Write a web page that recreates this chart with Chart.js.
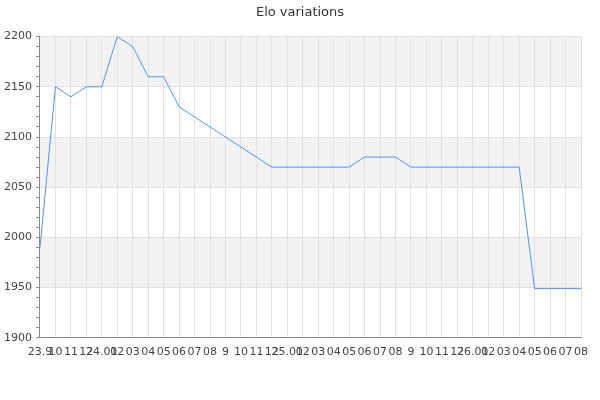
<!DOCTYPE html>
<html>
<head>
<meta charset="utf-8">
<script src="https://cdn.jsdelivr.net/npm/chart.js@4"></script>
<style>
  html, body { margin: 0; padding: 0; background: #fff; }
  #wrap { width: 600px; height: 400px; }
</style>
</head>
<body>
<div id="wrap"><canvas id="eloChart"></canvas></div>
<script>
const labels = [
  "23.9", "10", "11", "12",
  "24.01", "02", "03", "04", "05", "06", "07", "08", "9", "10", "11", "12",
  "25.01", "02", "03", "04", "05", "06", "07", "08", "9", "10", "11", "12",
  "26.01", "02", "03", "04", "05", "06", "07", "08"
];
const elo = [
  1990, 2150, 2140, 2150,
  2150, 2200, 2190, 2160, 2160, 2130, 2120, 2110, 2100, 2090, 2080, 2070,
  2070, 2070, 2070, 2070, 2070, 2080, 2080, 2080, 2070, 2070, 2070, 2070,
  2070, 2070, 2070, 2070, 1949, 1949, 1949, 1949
];
const yMin = 1900;
const yMax = 2200;

Chart.defaults.font.family = "'DejaVu Sans', sans-serif";
Chart.defaults.color = "#444";

// alternating grey bands, every other 50 pts from the top
const bandPlugin = {
  id: "bands",
  beforeDraw(chart) {
    const { ctx, chartArea, scales } = chart;
    const y = scales.y;
    ctx.save();
    ctx.fillStyle = "#f2f2f2";
    for (let v = yMax; v > yMin; v -= 100) {
      const top = y.getPixelForValue(v);
      const bottom = y.getPixelForValue(v - 50);
      ctx.fillRect(chartArea.left, top, chartArea.right - chartArea.left, bottom - top);
    }
    ctx.restore();
  }
};

new Chart(document.getElementById("eloChart"), {
  type: "line",
  data: {
    labels: labels,
    datasets: [{
      data: elo,
      borderColor: "#5b8ff2",
      borderWidth: 1,
      pointRadius: 0,
      tension: 0
    }]
  },
  options: {
    responsive: true,
    maintainAspectRatio: false,
    animation: false,
    layout: { padding: { left: 0, right: 0, top: 5, bottom: 33 } },
    plugins: {
      legend: { display: false },
      tooltip: { enabled: false },
      title: {
        display: true,
        text: "Elo variations",
        color: "#333",
        font: { size: 13, weight: "normal" },
        padding: { top: 0, bottom: 16 }
      }
    },
    scales: {
      x: {
        offset: false,
        border: { color: "#888" },
        grid: { color: "#e0e0e0", tickLength: 0 },
        ticks: {
          autoSkip: false,
          maxRotation: 0,
          minRotation: 0,
          padding: 8,
          color: "#444",
          font: { size: 11 }
        },
        // keep the right gap on the axis so the title stays centred on the page
        afterFit: s => { s.paddingRight = 19; }
      },
      y: {
        min: yMin,
        max: yMax,
        border: { color: "#888" },
        grid: {
          color: c => (c.tick && c.tick.value % 50 === 0) ? "#e0e0e0" : "transparent",
          tickColor: "#888",
          tickLength: 4
        },
        ticks: {
          stepSize: 10,
          autoSkip: false,
          padding: 4,
          color: "#444",
          font: { size: 11 },
          callback: v => (v % 50 === 0 ? v : "")
        }
      }
    }
  },
  plugins: [bandPlugin]
});
</script>
</body>
</html>
